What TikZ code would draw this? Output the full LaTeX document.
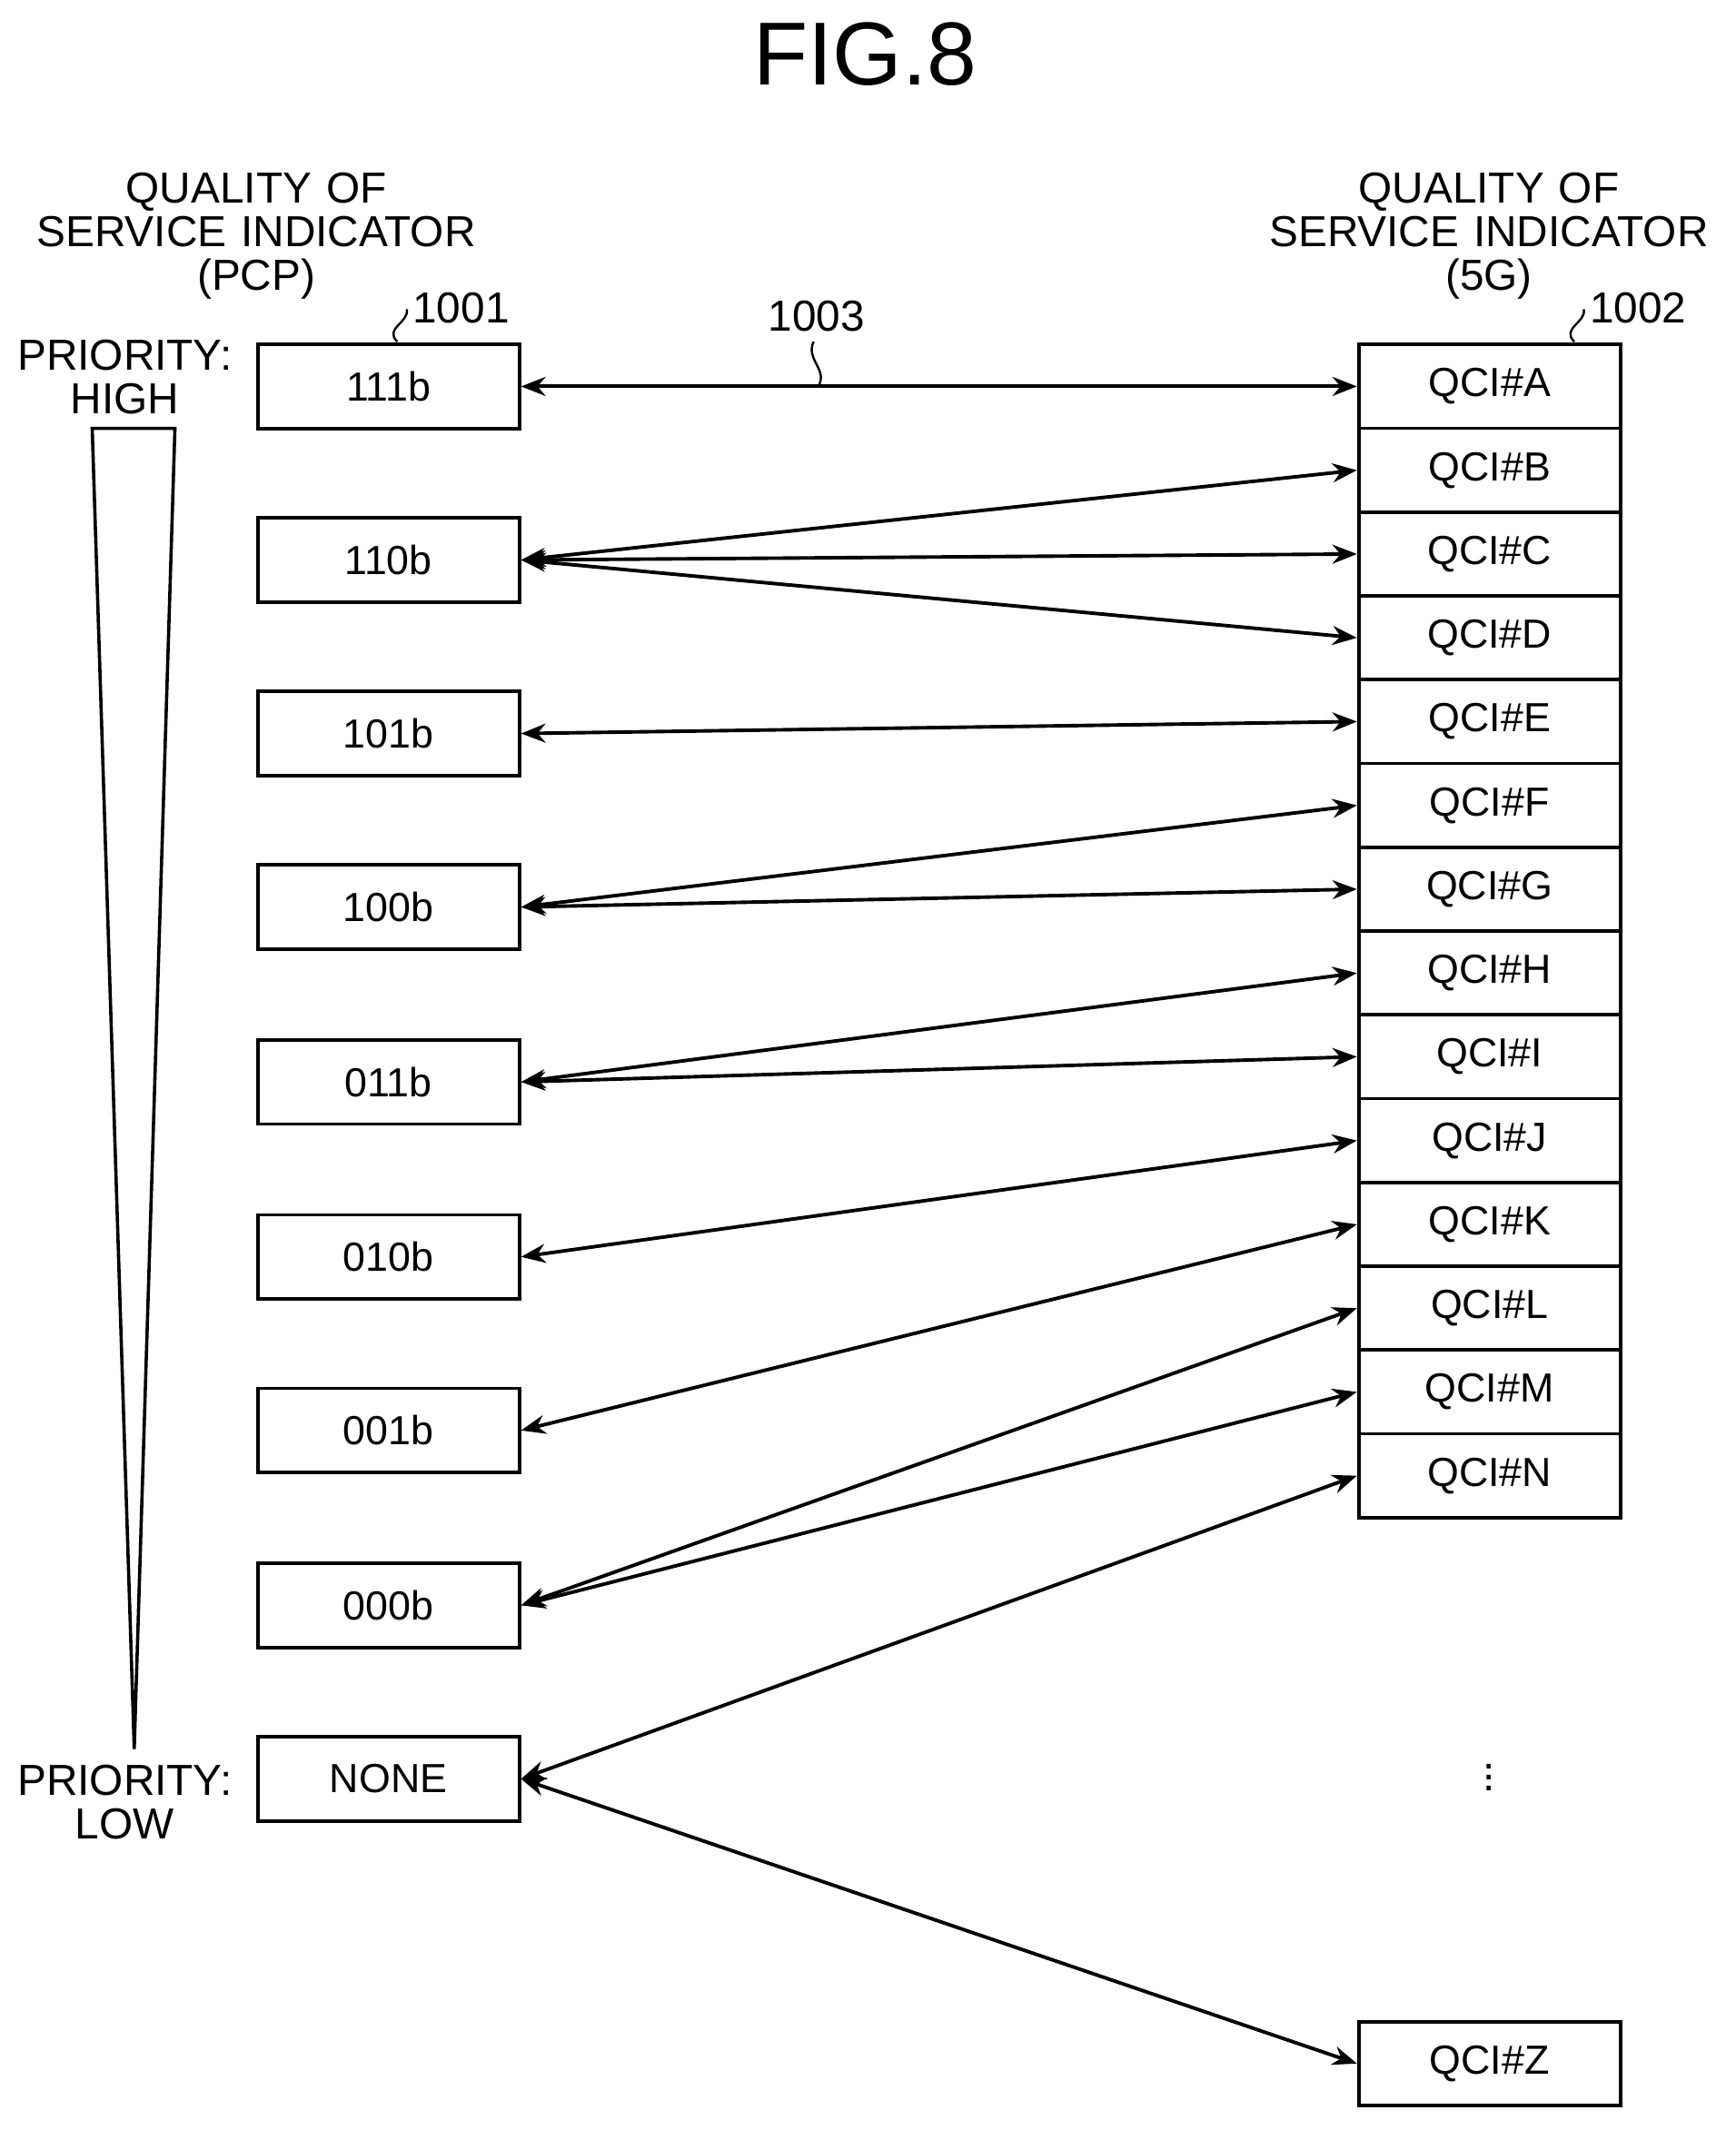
\documentclass[tikz,border=0pt]{standalone}
\usepackage{fontspec}
\setmainfont{Liberation Sans}
\usetikzlibrary{arrows.meta}
\begin{document}
\begin{tikzpicture}[x=0.5pt,y=-0.5pt,
  box/.style={draw,line width=1.3pt,minimum width=96.5pt,minimum height=31pt,inner sep=0pt,font=\fontsize{15}{18}\selectfont},
  lbl/.style={font=\fontsize{16}{19}\selectfont,align=center},
  arr/.style={line width=1.3pt,{Stealth[length=9pt,width=7pt]}-{Stealth[length=9pt,width=7pt]}},
  sq/.style={line width=0.8pt}]
\useasboundingbox (0,0) rectangle (1280,1571);
\node[font=\fontsize{33}{38}\selectfont] (title) at (638,40) {FIG.8};
\node[lbl,text width=200pt] (hl) at (189,174) {QUALITY OF\\[-3pt]SERVICE INDICATOR\\[-3pt](PCP)};
\node[lbl,text width=200pt] (hr) at (1098,174) {QUALITY OF\\[-3pt]SERVICE INDICATOR\\[-3pt](5G)};
\node[lbl] (ph) at (92,278) {PRIORITY:\\[-3pt]HIGH};
\node[lbl] (pl) at (92,1329) {PRIORITY:\\[-3pt]LOW};
\draw[line width=1.2pt] (68,316) -- (129,316) -- (99,1290) -- cycle;
\foreach \n/\t/\y in {a/111b/285,b/110b/413,c/101b/541,d/100b/669,e/011b/798,f/010b/927,g/001b/1055,h/000b/1184,i/NONE/1312}
  \node[box] (L\n) at (286.5,\y) {\t};
\foreach \n [count=\k from 0] in {A,B,C,D,E,F,G,H,I,J,K,L,M,N}
  \node[box,minimum height=30.9pt] (R\n) at (1098.5,{285+61.8*\k}) {QCI\#\n};
\node[box] (RZ) at (1098.5,1522) {QCI\#Z};
\node[font=\fontsize{16}{19}\selectfont] (dots) at (1098,1305) {$\vdots$};
\node[lbl] (n1001) at (340,227) {1001};
\node[lbl] (n1002) at (1208,227) {1002};
\node[lbl] (n1003) at (602,233) {1003};
\draw[sq] (293,252) .. controls (283,242) and (302,238) .. (300,228);
\draw[sq] (1161,252) .. controls (1151,242) and (1170,238) .. (1168,228);
\draw[sq] (604,284) .. controls (610,272) and (594,265) .. (600,252);
\draw[arr] (La.east) -- (RA.west);
\draw[arr] (Lb.east) -- (RB.west);
\draw[arr] (Lb.east) -- (RC.west);
\draw[arr] (Lb.east) -- (RD.west);
\draw[arr] (Lc.east) -- (RE.west);
\draw[arr] (Ld.east) -- (RF.west);
\draw[arr] (Ld.east) -- (RG.west);
\draw[arr] (Le.east) -- (RH.west);
\draw[arr] (Le.east) -- (RI.west);
\draw[arr] (Lf.east) -- (RJ.west);
\draw[arr] (Lg.east) -- (RK.west);
\draw[arr] (Lh.east) -- (RL.west);
\draw[arr] (Lh.east) -- (RM.west);
\draw[arr] (Li.east) -- (RN.west);
\draw[arr] (Li.east) -- (RZ.west);
\end{tikzpicture}
\end{document}
